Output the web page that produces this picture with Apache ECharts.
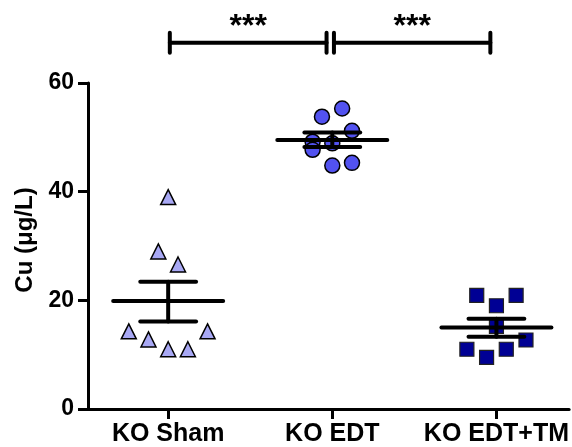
<!DOCTYPE html>
<html>
<head>
<meta charset="utf-8">
<script src="https://cdn.jsdelivr.net/npm/echarts@6/dist/echarts.min.js"></script>
<style>
html,body{margin:0;padding:0;background:#fff;}
#chart{width:572px;height:447px;}
</style>
</head>
<body>
<div id="chart"></div>
<script>
// ---- data ----
var categories = ['KO Sham', 'KO EDT', 'KO EDT+TM'];
var yTicks = [0, 20, 40, 60];
var shamValues = [39.0, 29.0, 26.6, 14.3, 12.8, 11.0, 11.0, 14.3];
var shamJitter = [0, -0.06, 0.06, -0.24, -0.12, 0, 0.12, 0.24];
var edtValues = [53.8, 55.3, 51.2, 49.2, 47.7, 48.9, 44.8, 45.3];
var edtJitter = [-0.063, 0.06, 0.12, -0.12, -0.12, 0, 0, 0.12];
var edtTmValues = [20.9, 20.9, 19.0, 15.2, 12.7, 11.0, 11.0, 9.5];
var edtTmJitter = [-0.12, 0.12, 0, 0, 0.18, -0.18, 0.06, -0.06];
var means = [19.9, 49.5, 15.0];
var semUpper = [23.4, 50.9, 16.6];
var semLower = [16.1, 48.2, 13.3];
var brackets = [[0.01, 0.965, 67.4], [1.01, 1.963, 67.4]];
var bracketLabels = ['***', '***'];

var colors = ['#a8a8f4', '#5252f0', '#000094'];

function pts(groupIndex, vals, jit) {
  return vals.map(function (v, i) { return [groupIndex + jit[i], v]; });
}

var errData = means.map(function (m, i) { return [i, m, semUpper[i], semLower[i]]; });
var brData = brackets.map(function (b, i) { return [b[0], b[1], b[2], i]; });

var FONT = '"Liberation Sans", Arial, sans-serif';

var chart = echarts.init(document.getElementById('chart'), null, {renderer: 'canvas'});
chart.setOption({
  animation: false,
  backgroundColor: '#ffffff',
  grid: {left: 88, top: 83, width: 482, height: 328, containLabel: false},
  xAxis: {
    type: 'value',
    min: -0.4885,
    max: 2.443,
    splitLine: {show: false},
    axisLine: {show: true, onZero: false, lineStyle: {color: '#000', width: 3}},
    axisTick: {show: true, customValues: [0, 1, 2], length: 10, lineStyle: {color: '#000', width: 3}},
    axisLabel: {
      show: true, customValues: [0, 1, 2], margin: 13,
      formatter: function (v) { return categories[Math.round(v)]; },
      color: '#000', fontSize: 25, fontWeight: 'bold', fontFamily: FONT
    }
  },
  yAxis: {
    type: 'value',
    min: 0, max: 60, interval: 20,
    name: 'Cu (\u03bcg/L)',
    nameLocation: 'middle',
    nameRotate: 90,
    nameGap: 51,
    nameTextStyle: {color: '#000', fontSize: 24, fontWeight: 'bold', fontFamily: FONT, padding: [0, 0, 0, 12]},
    splitLine: {show: false},
    axisLine: {show: true, onZero: false, lineStyle: {color: '#000', width: 3}},
    axisTick: {show: true, length: 10, lineStyle: {color: '#000', width: 3}},
    axisLabel: {
      margin: 14, color: '#000', fontSize: 23, fontWeight: 'bold', fontFamily: FONT,
      formatter: function (v) { return yTicks.indexOf(v) >= 0 ? String(v) : ''; }
    }
  },
  series: [
    {
      type: 'scatter', name: categories[0], data: pts(0, shamValues, shamJitter),
      symbol: 'triangle', symbolSize: 15,
      itemStyle: {color: colors[0], borderColor: '#000', borderWidth: 1.5, opacity: 1}, z: 2
    },
    {
      type: 'scatter', name: categories[1], data: pts(1, edtValues, edtJitter),
      symbol: 'circle', symbolSize: 15,
      itemStyle: {color: colors[1], borderColor: '#000', borderWidth: 1.5, opacity: 1}, z: 2
    },
    {
      type: 'scatter', name: categories[2], data: pts(2, edtTmValues, edtTmJitter),
      symbol: 'rect', symbolSize: 14,
      itemStyle: {color: colors[2], borderColor: '#222', borderWidth: 1.2, opacity: 1}, z: 2
    },
    {
      type: 'custom', z: 5, clip: false,
      data: errData,
      renderItem: function (params, api) {
        var x = api.value(0);
        var m = api.coord([x, api.value(1)]);
        var hi = api.coord([x, api.value(2)]);
        var lo = api.coord([x, api.value(3)]);
        var mL = api.coord([x - 0.335, api.value(1)]);
        var mR = api.coord([x + 0.335, api.value(1)]);
        var wL = api.coord([x - 0.17, api.value(2)]);
        var wR = api.coord([x + 0.17, api.value(2)]);
        var st = {stroke: '#000', lineWidth: 4, lineCap: 'round'};
        return {
          type: 'group',
          children: [
            {type: 'line', shape: {x1: mL[0], y1: m[1], x2: mR[0], y2: m[1]}, style: st},
            {type: 'line', shape: {x1: hi[0], y1: hi[1], x2: lo[0], y2: lo[1]}, style: st},
            {type: 'line', shape: {x1: wL[0], y1: hi[1], x2: wR[0], y2: hi[1]}, style: st},
            {type: 'line', shape: {x1: wL[0], y1: lo[1], x2: wR[0], y2: lo[1]}, style: st}
          ]
        };
      }
    },
    {
      type: 'custom', z: 5, clip: false,
      data: brData,
      renderItem: function (params, api) {
        var a = api.coord([api.value(0), api.value(2)]);
        var b = api.coord([api.value(1), api.value(2)]);
        var st = {stroke: '#000', lineWidth: 4, lineCap: 'round'};
        var h = 10;
        return {
          type: 'group',
          children: [
            {type: 'line', shape: {x1: a[0], y1: a[1], x2: b[0], y2: b[1]}, style: st},
            {type: 'line', shape: {x1: a[0], y1: a[1] - h, x2: a[0], y2: a[1] + h}, style: st},
            {type: 'line', shape: {x1: b[0], y1: b[1] - h, x2: b[0], y2: b[1] + h}, style: st},
            {type: 'text', style: {
              text: bracketLabels[api.value(3)], x: (a[0] + b[0]) / 2, y: a[1] - 16,
              align: 'center', verticalAlign: 'middle',
              fill: '#000', font: 'bold 32px ' + FONT
            }}
          ]
        };
      }
    }
  ]
});
</script>
</body>
</html>
